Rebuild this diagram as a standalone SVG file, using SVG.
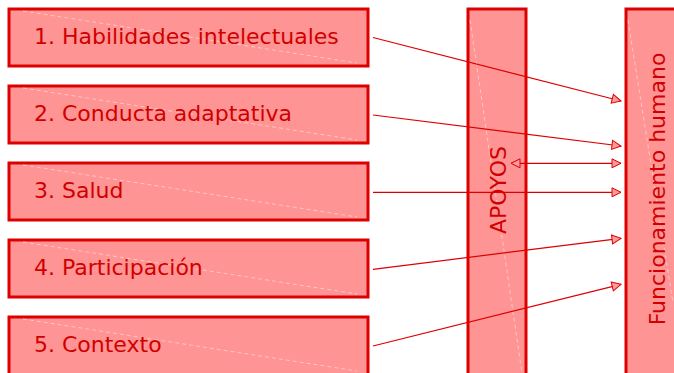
<svg xmlns="http://www.w3.org/2000/svg" width="674" height="373" viewBox="0 0 674 373">
<defs>
<marker id="ah" markerUnits="userSpaceOnUse" markerWidth="12" markerHeight="12" viewBox="0 0 12 12" refX="10" refY="6" orient="auto-start-reverse">
<path d="M1,1.5 L10,6 L1,10.5 Z" fill="#ff9a9a" stroke="#dd0000" stroke-width="1"/>
</marker>
</defs>
<style>
.box{fill:#ff9494;stroke:#dd0000;stroke-width:3}
.sheen{stroke:#ffffff;stroke-opacity:0.45;stroke-width:1;stroke-dasharray:4 3;fill:none}
.lbl{font-family:"DejaVu Sans",Verdana,sans-serif;font-size:22px;fill:#d00000}
.con{stroke:#dd0000;stroke-width:1.2;fill:none;marker-end:url(#ah)}
</style>
<rect width="674" height="373" fill="#ffffff"/>
<g id="n1"><rect class="box" x="9" y="9" width="359" height="57"/><line class="sheen" x1="23" y1="11" x2="357" y2="63"/><text class="lbl" x="34" y="43.5">1. Habilidades intelectuales</text></g>
<g id="n2"><rect class="box" x="9" y="86" width="359" height="57"/><line class="sheen" x1="23" y1="88" x2="357" y2="140"/><text class="lbl" x="34" y="120.5">2. Conducta adaptativa</text></g>
<g id="n3"><rect class="box" x="9" y="163" width="359" height="57"/><line class="sheen" x1="23" y1="165" x2="357" y2="217"/><text class="lbl" x="34" y="197.5">3. Salud</text></g>
<g id="n4"><rect class="box" x="9" y="240" width="359" height="57"/><line class="sheen" x1="23" y1="242" x2="357" y2="294"/><text class="lbl" x="34" y="274.5">4. Participación</text></g>
<g id="n5"><rect class="box" x="9" y="317" width="359" height="70"/><line class="sheen" x1="23" y1="319" x2="357" y2="371"/><text class="lbl" x="34" y="351.5">5. Contexto</text></g>
<g id="apoyos"><rect class="box" x="468" y="9" width="58" height="380"/><line class="sheen" x1="470" y1="20" x2="522" y2="373"/><text class="lbl" transform="translate(505.5,190) rotate(-90)" text-anchor="middle">APOYOS</text></g>
<g id="funcionamiento"><rect class="box" x="626" y="9" width="80" height="380"/><line class="sheen" x1="628" y1="20" x2="673" y2="303"/><text class="lbl" transform="translate(665,189) rotate(-90)" text-anchor="middle">Funcionamiento humano</text></g>
<g id="connectors">
<line class="con" x1="373" y1="37.5" x2="621" y2="101"/>
<line class="con" x1="373" y1="115" x2="621" y2="146"/>
<line class="con" x1="511" y1="163.3" x2="621" y2="163.3" marker-start="url(#ah)"/>
<line class="con" x1="373" y1="192.3" x2="621" y2="192.3"/>
<line class="con" x1="373" y1="269.3" x2="621" y2="238.3"/>
<line class="con" x1="373" y1="346" x2="621" y2="284.3"/>
</g>
</svg>
